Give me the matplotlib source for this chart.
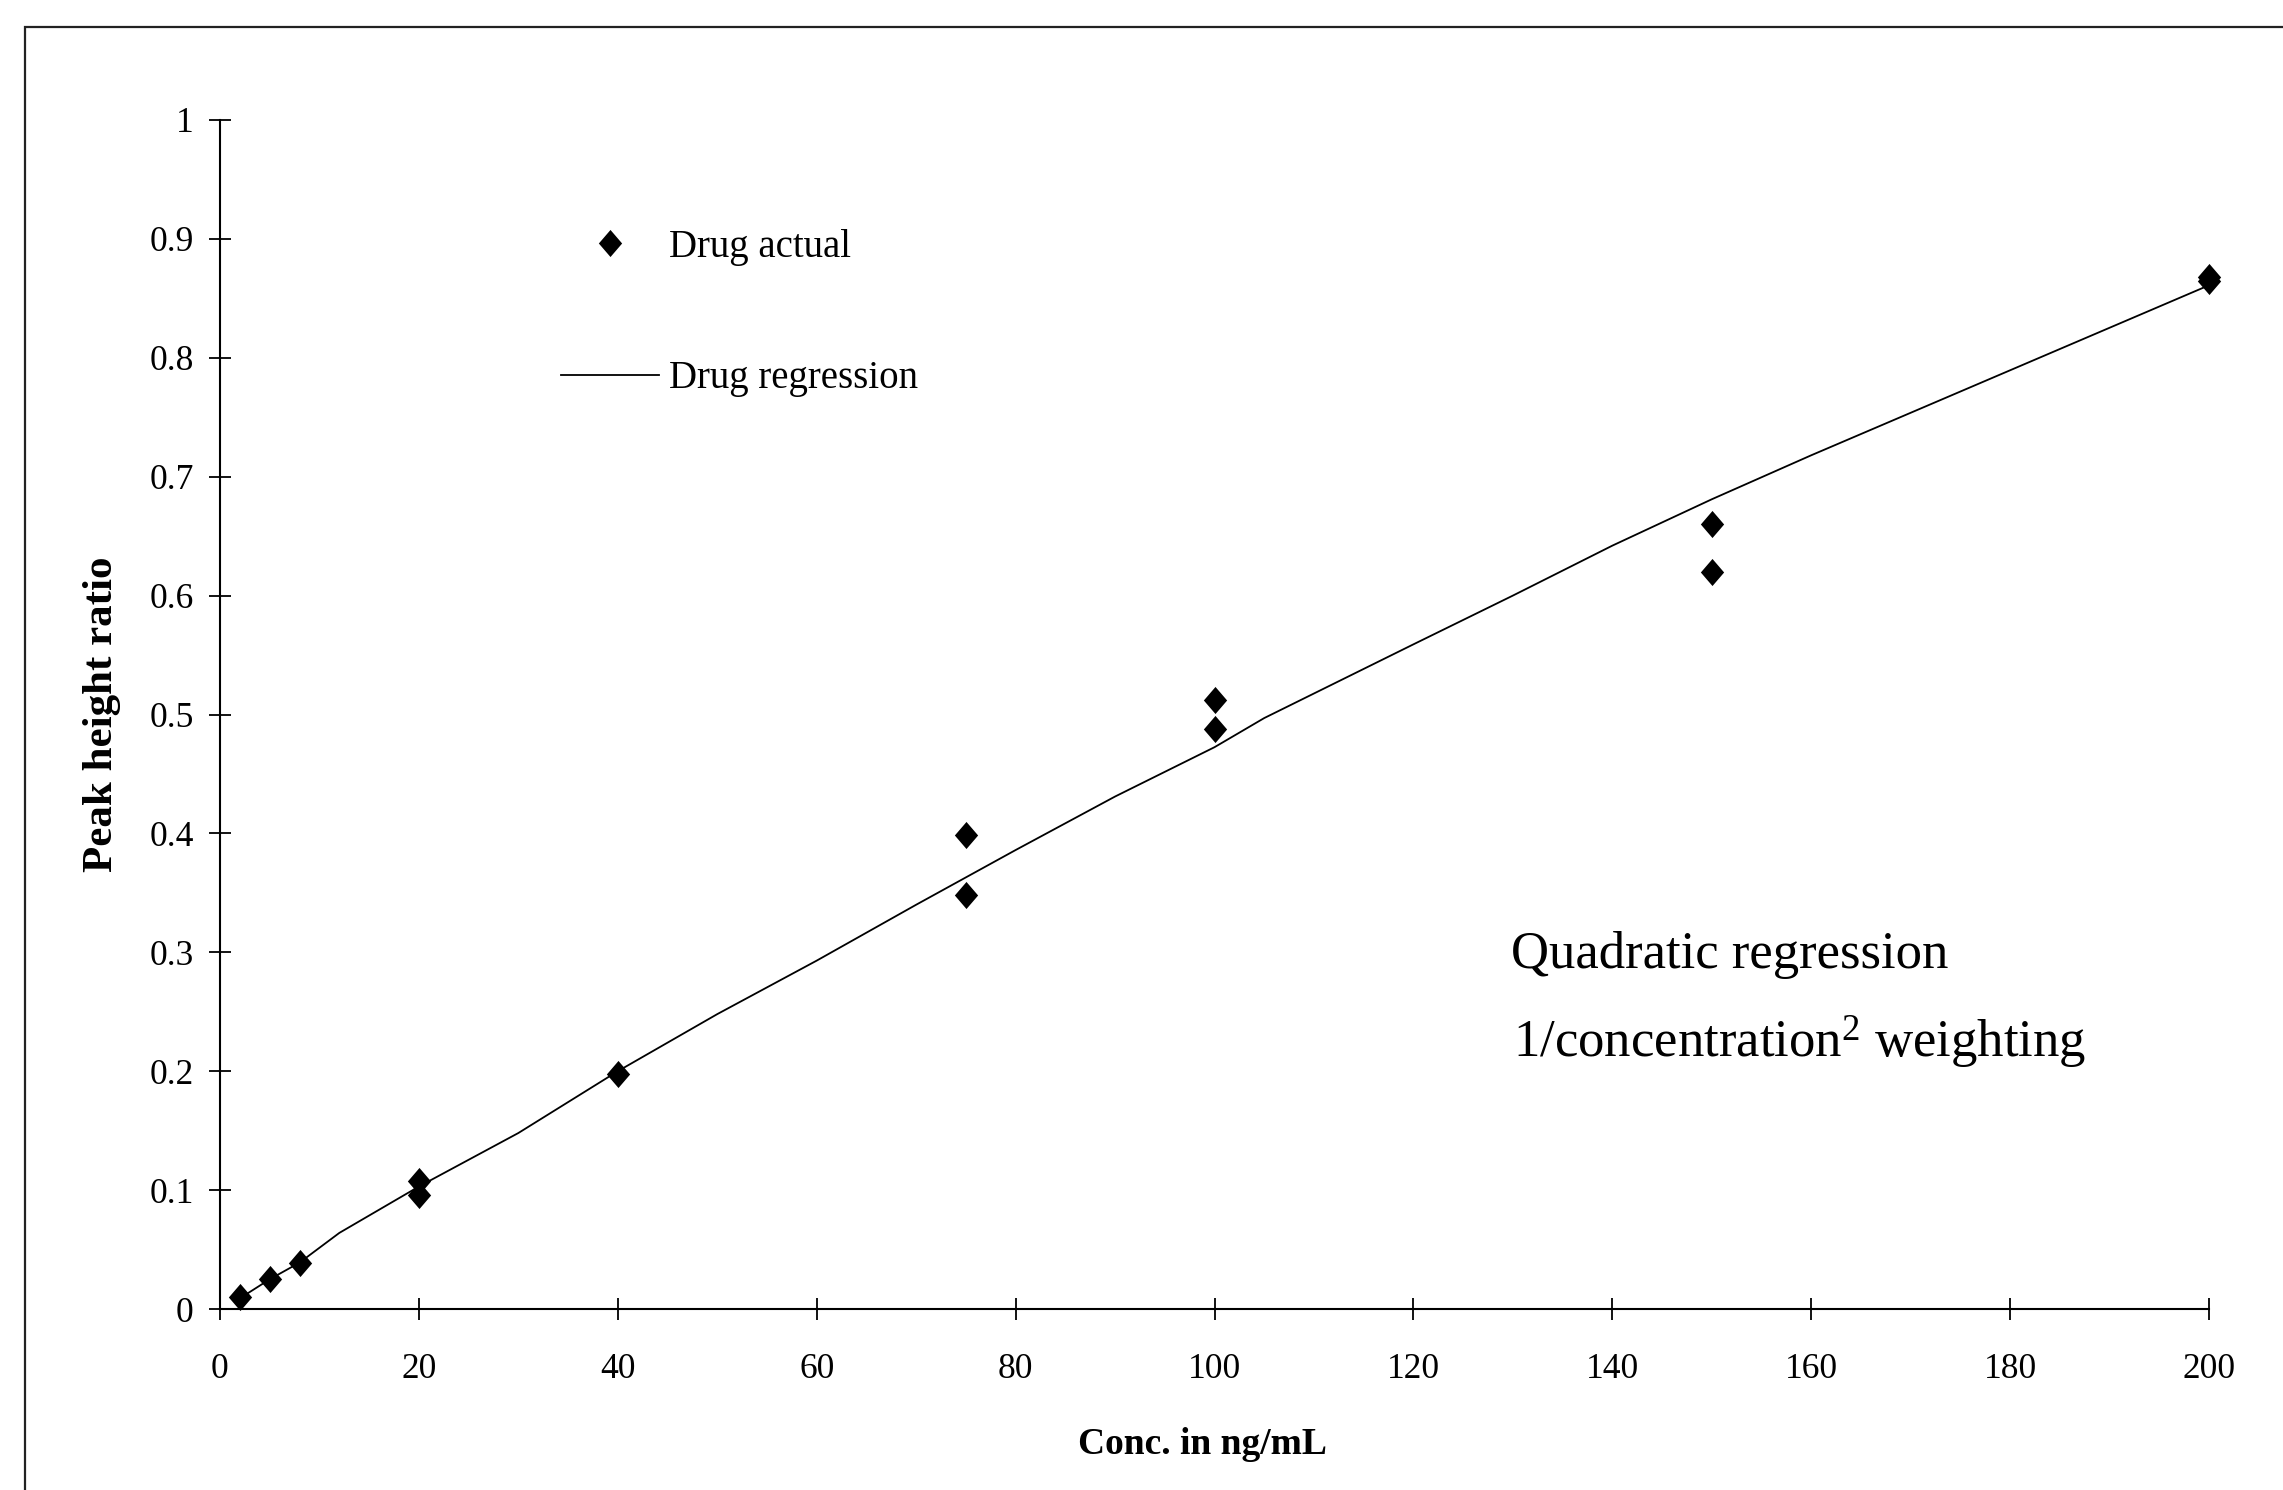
import matplotlib
matplotlib.use("Agg")
import matplotlib.pyplot as plt
from matplotlib.lines import Line2D
from matplotlib.patches import Rectangle
from matplotlib.path import Path

plt.rcParams['font.family'] = ['Liberation Serif', 'DejaVu Serif']
plt.rcParams['mathtext.fontset'] = 'custom'
plt.rcParams['mathtext.rm'] = 'Liberation Serif'
plt.rcParams['mathtext.default'] = 'regular'

# ---- data ----
conc_actual = [2, 5, 8, 20, 20, 40, 75, 75, 100, 100, 150, 150, 200, 200]
ratio_actual = [0.010, 0.025, 0.039, 0.108, 0.096, 0.198, 0.399, 0.348,
                0.512, 0.488, 0.660, 0.620, 0.868, 0.865]

conc_fit = [2, 5, 8, 12, 20, 30, 40, 50, 60, 70, 80, 90, 100, 105,
            120, 130, 140, 150, 160, 200]
ratio_fit = [0.009, 0.025, 0.039, 0.064, 0.103, 0.148, 0.200, 0.248, 0.293,
             0.340, 0.386, 0.431, 0.4725, 0.497, 0.559, 0.600, 0.642, 0.681,
             0.718, 0.861]

x_ticks = [0, 20, 40, 60, 80, 100, 120, 140, 160, 180, 200]
x_tick_labels = ['0', '20', '40', '60', '80', '100', '120', '140', '160', '180', '200']
y_ticks = [0, 0.1, 0.2, 0.3, 0.4, 0.5, 0.6, 0.7, 0.8, 0.9, 1.0]
y_tick_labels = ['0', '0.1', '0.2', '0.3', '0.4', '0.5', '0.6', '0.7', '0.8', '0.9', '1']

label_actual = 'Drug actual'
label_fit = 'Drug regression'
x_title = 'Conc. in ng/mL'
y_title = 'Peak height ratio'
note_1 = 'Quadratic regression'
note_2 = r'1/concentration$^{2}$ weighting'

# ---- figure ----
W, H = 2283, 1490
fig = plt.figure(figsize=(W / 100, H / 100), dpi=100)
fig.patch.set_facecolor('white')

ax_l, ax_r = 220 / W, 2209 / W
ax_b, ax_t = 1 - 1309 / H, 1 - 120 / H
ax = fig.add_axes([ax_l, ax_b, ax_r - ax_l, ax_t - ax_b])
ax.set_xlim(0, 200)
ax.set_ylim(0, 1)
ax.patch.set_alpha(0)

# outer frame (cropped on right and bottom)
frame = Rectangle((25 / W, -0.05), 1.2, 1 - 27 / H + 0.05, transform=fig.transFigure,
                  fill=False, edgecolor='#222222', linewidth=1.6, clip_on=False)
fig.patches.append(frame)

diamond = Path([(0, 0.5), (0.43, 0), (0, -0.5), (-0.43, 0), (0, 0.5)],
               [Path.MOVETO, Path.LINETO, Path.LINETO, Path.LINETO, Path.CLOSEPOLY])

ax.plot(conc_fit, ratio_fit, color='black', linewidth=1.3, zorder=2)
ax.plot(conc_actual, ratio_actual, linestyle='none', marker=diamond,
        markersize=19.5, color='black', markeredgewidth=0, zorder=3, clip_on=False)

for s in ['top', 'right']:
    ax.spines[s].set_visible(False)
for s in ['left', 'bottom']:
    ax.spines[s].set_linewidth(1.5)
    ax.spines[s].set_color('black')

ax.set_xticks(x_ticks)
ax.set_xticklabels(x_tick_labels)
ax.set_yticks(y_ticks)
ax.set_yticklabels(y_tick_labels)
ax.tick_params(axis='both', direction='inout', length=16, width=1.3, color='black',
               labelsize=25.5)
ax.tick_params(axis='x', pad=24)
ax.tick_params(axis='y', pad=11)

ax.set_xlabel(x_title, fontsize=27, fontweight='bold', va='center')
ax.xaxis.set_label_coords(0.494, -0.114)
ax.set_ylabel(y_title, fontsize=31, fontweight='bold', va='center')
ax.yaxis.set_label_coords(-0.0595, 0.5)

h1 = Line2D([], [], linestyle='none', marker=diamond, markersize=19.5, color='black',
            markeredgewidth=0)
h2 = Line2D([], [], color='black', linewidth=1.3)
leg = ax.legend([h1, h2], [label_actual, label_fit], loc='upper left',
                bbox_to_anchor=(561 / W, 1 - 229 / H), bbox_transform=fig.transFigure,
                frameon=False, fontsize=28, handlelength=2.52, handletextpad=0.26,
                labelspacing=2.42, borderpad=0, borderaxespad=0, numpoints=1)

fig.text(1511 / W, 1 - 955 / H, note_1, fontsize=38, va='center', ha='left')
fig.text(1513 / W, 1 - 1042 / H, note_2, fontsize=38, va='center', ha='left')

fig.savefig('out.png', dpi=100, facecolor='white')
